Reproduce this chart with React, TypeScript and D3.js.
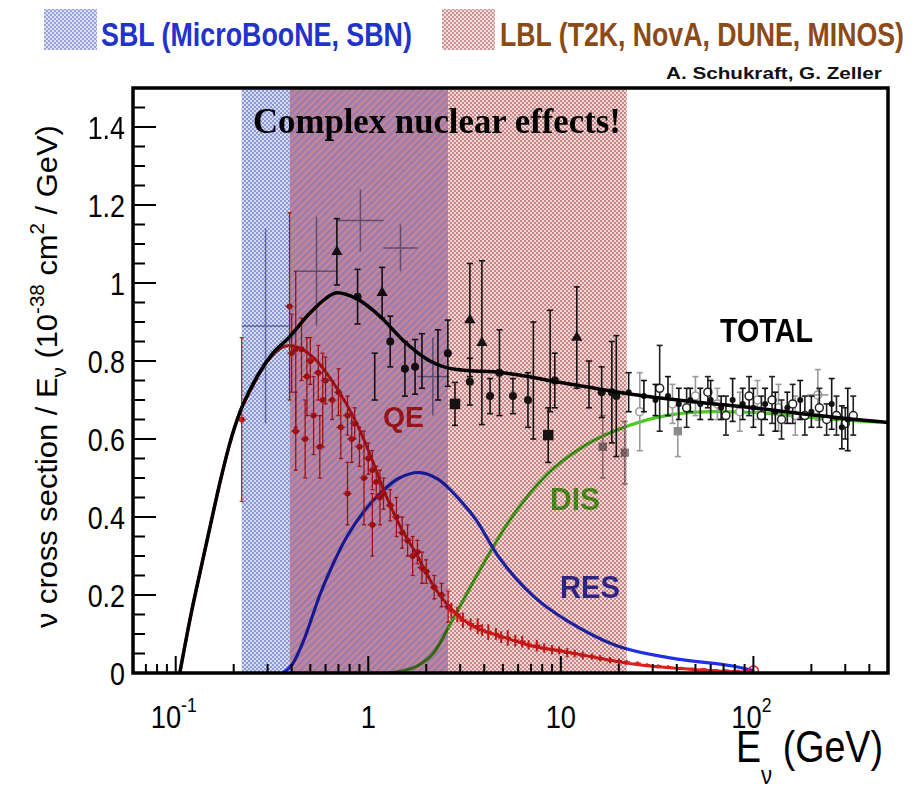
import React, { useLayoutEffect, useRef, useState } from "react";
import * as d3 from "d3";

const W = 920;
const H = 790;

// axes
const xDomain: [number, number] = [0.06, 500];
const yDomain: [number, number] = [0, 1.5];
const yMajorTicks = [0, 0.2, 0.4, 0.6, 0.8, 1, 1.2, 1.4];
const yTickLabels = ["0", "0.2", "0.4", "0.6", "0.8", "1", "1.2", "1.4"];
const xMajorTicks = [0.1, 1, 10, 100];
const xTickBase = ["10", "1", "10", "10"];
const xTickExp = ["-1", "", "", "2"];

// bands
const sblRange: [number, number] = [0.22, 2.6];
const lblRange: [number, number] = [0.39, 22];

// theory curves [E (GeV), sigma/E]
const totalCurve: [number, number][] = [
  [0.105, 0], [0.12, 0.15], [0.134, 0.26], [0.15, 0.37], [0.17, 0.49], [0.19, 0.585], [0.216, 0.67],
  [0.243, 0.726], [0.308, 0.81], [0.39, 0.862], [0.498, 0.923], [0.6, 0.96], [0.687, 0.975],
  [0.87, 0.96], [1.16, 0.913], [1.51, 0.854], [2.09, 0.8], [2.88, 0.778], [5, 0.77], [10, 0.745],
  [23.7, 0.714], [50, 0.695], [100, 0.68], [200, 0.662], [500, 0.642],
];
const qeCurve: [number, number][] = [
  [0.105, 0], [0.12, 0.15], [0.134, 0.26], [0.15, 0.37], [0.17, 0.49], [0.19, 0.585], [0.216, 0.67],
  [0.243, 0.722], [0.3, 0.8], [0.39, 0.84], [0.516, 0.81], [0.687, 0.73], [0.87, 0.64], [1.06, 0.54],
  [1.2, 0.47], [1.45, 0.38], [1.8, 0.3], [2.2, 0.22], [2.75, 0.16], [3.5, 0.12], [4.8, 0.095],
  [7, 0.07], [10.7, 0.054], [15, 0.04], [23.7, 0.023], [52, 0.008], [100, 0.002],
];
const resCurve: [number, number][] = [
  [0.36, 0], [0.4, 0.02], [0.45, 0.07], [0.5, 0.13], [0.56, 0.2], [0.65, 0.275], [0.775, 0.35],
  [0.95, 0.415], [1.15, 0.46], [1.45, 0.5], [1.85, 0.514], [2.3, 0.497], [3.1, 0.435], [3.66, 0.39],
  [4.8, 0.295], [7.2, 0.197], [10.7, 0.135], [19.5, 0.07], [35.5, 0.04], [78, 0.018], [100, 0.006],
];
const disCurve: [number, number][] = [
  [1.25, 0], [1.5, 0.005], [1.8, 0.018], [2.17, 0.05], [2.75, 0.138], [3.66, 0.25], [5.4, 0.39],
  [8.5, 0.51], [13, 0.58], [22.8, 0.635], [35, 0.66], [60, 0.67], [100, 0.668], [200, 0.655], [450, 0.643],
];

// measurements [E, value, error]
const blackTriangles: [number, number, number][] = [
  [0.687, 1.08, 0.085], [1.18, 0.975, 0.065], [3.37, 0.905, 0.145], [3.89, 0.847, 0.21], [12.1, 0.86, 0.13],
];
const blackCircles: [number, number, number][] = [
  [0.88, 0.965, 0.07], [1.3, 0.85, 0.065], [1.55, 0.78, 0.07], [1.75, 0.785, 0.07], [2.59, 0.82, 0.085],
  [3.37, 0.747, 0.06], [4.29, 0.71, 0.045], [4.8, 0.77, 0.11], [5.64, 0.71, 0.045], [6.75, 0.7, 0.07],
  [9.3, 0.75, 0.07], [16.3, 0.72, 0.065], [18.4, 0.72, 0.13], [19.4, 0.71, 0.155],
];
const blackBars: [number, number, number][] = [
  [1.08, 0.76, 0.06], [1.9, 0.8, 0.07], [7.2, 0.75, 0.15], [8.8, 0.8, 0.13], [2.3, 0.79, 0.09], [14, 0.74, 0.06],
];
const blackSquares: [number, number, number][] = [[2.82, 0.69, 0.055], [8.6, 0.61, 0.07]];
const graySquares: [number, number, number][] = [[16.5, 0.58, 0.08], [21.5, 0.565, 0.08], [40.5, 0.62, 0.065]];
const grayWide: [number, number, number, number][] = [
  [0.22, 0.39, 0.89, 0.25], [0.42, 0.69, 1.03, 0.14], [0.69, 1.2, 1.16, 0.08], [1.2, 1.8, 1.09, 0.06], [1.8, 2.6, 0.76, 0.1],
];
const highEBlack: [number, number, number][] = [
  [22.5, 0.72, 0.05], [27, 0.71, 0.04], [31, 0.7, 0.04], [36, 0.71, 0.05], [41, 0.69, 0.04], [47, 0.7, 0.03],
  [53, 0.69, 0.04], [60, 0.7, 0.05], [68, 0.68, 0.03], [78, 0.7, 0.055], [88, 0.69, 0.04], [100, 0.68, 0.05],
  [115, 0.69, 0.04], [130, 0.67, 0.05], [150, 0.68, 0.04], [175, 0.7, 0.05], [200, 0.67, 0.04],
  [255, 0.69, 0.065], [288, 0.63, 0.055], [309, 0.65, 0.08],
];
const highEOpen: [number, number, number][] = [
  [32.6, 0.73, 0.11], [45, 0.68, 0.05], [58, 0.72, 0.04], [72, 0.66, 0.05], [95, 0.71, 0.05], [110, 0.66, 0.05],
  [125, 0.7, 0.06], [140, 0.65, 0.05], [160, 0.69, 0.05], [185, 0.66, 0.05], [220, 0.68, 0.05], [240, 0.65, 0.04],
  [270, 0.66, 0.05], [300, 0.64, 0.04], [330, 0.66, 0.05],
];
const highEGray: [number, number, number][] = [
  [25.7, 0.67, 0.1], [38, 0.69, 0.05], [50, 0.71, 0.05], [65, 0.69, 0.04], [85, 0.67, 0.05], [105, 0.7, 0.05],
  [135, 0.68, 0.06], [165, 0.66, 0.05], [216, 0.713, 0.065],
];
const qePoints: [number, number, number][] = [
  [0.22, 0.65, 0.21], [0.39, 0.94, 0.24], [0.42, 0.83, 0.2], [0.4, 0.82, 0.1], [0.45, 0.83, 0.08], [0.48, 0.76, 0.1],
  [0.5, 0.8, 0.06], [0.55, 0.77, 0.07], [0.58, 0.7, 0.12], [0.6, 0.75, 0.06], [0.65, 0.7, 0.05], [0.7, 0.72, 0.06],
  [0.72, 0.63, 0.08], [0.78, 0.66, 0.05], [0.82, 0.6, 0.06], [0.85, 0.64, 0.04], [0.9, 0.58, 0.05], [0.95, 0.5, 0.12],
  [1.0, 0.55, 0.04], [1.05, 0.52, 0.05], [1.1, 0.49, 0.04], [1.15, 0.45, 0.07], [1.2, 0.46, 0.04], [1.3, 0.43, 0.04],
  [1.4, 0.4, 0.05], [1.5, 0.36, 0.04], [1.6, 0.34, 0.04], [1.7, 0.3, 0.05], [1.8, 0.31, 0.03], [1.9, 0.27, 0.04],
  [2.0, 0.26, 0.03], [2.2, 0.22, 0.03], [2.4, 0.2, 0.03], [2.6, 0.17, 0.04],
  [0.42, 0.62, 0.1], [0.47, 0.6, 0.1], [0.52, 0.66, 0.1], [0.56, 0.58, 0.08], [0.78, 0.46, 0.08], [1.05, 0.38, 0.08],
];
// dense QE measurement band above 2.6 GeV [E, value, error]
const qeDense: [number, number, number][] = [
  [2.7, 0.16, 0.02], [2.9, 0.15, 0.02], [3.1, 0.135, 0.02], [3.4, 0.125, 0.015], [3.7, 0.12, 0.02],
  [3.9, 0.11, 0.015], [4.2, 0.105, 0.02], [4.6, 0.1, 0.015], [4.9, 0.092, 0.015], [5.3, 0.09, 0.02],
  [5.8, 0.083, 0.015], [6.3, 0.08, 0.015], [6.8, 0.072, 0.012], [7.5, 0.07, 0.015], [8.2, 0.064, 0.012],
  [9, 0.06, 0.012], [9.8, 0.058, 0.01], [10.8, 0.052, 0.012], [11.8, 0.05, 0.01], [13, 0.045, 0.01],
  [14.5, 0.042, 0.008], [16, 0.038, 0.008], [18, 0.033, 0.008], [20, 0.03, 0.007], [22, 0.027, 0.006],
  [25, 0.024, 0.006], [28, 0.02, 0.005], [32, 0.017, 0.005], [36, 0.015, 0.005], [42, 0.012, 0.004],
  [48, 0.01, 0.004], [55, 0.009, 0.004], [63, 0.007, 0.003], [72, 0.006, 0.003], [82, 0.005, 0.003], [92, 0.004, 0.003],
];

const FRAME = { left: 133, right: 888, top: 88, bottom: 673 };

type FitProps = {
  x: number;
  y: number;
  width: number;
  anchor?: "start" | "middle" | "end";
  rotate?: number;
  children: React.ReactNode;
  [k: string]: any;
};

function FitText({ x, y, width, anchor = "start", rotate = 0, children, ...rest }: FitProps) {
  const ref = useRef<SVGTextElement>(null);
  const [s, setS] = useState(1);
  useLayoutEffect(() => {
    if (ref.current) {
      const w = ref.current.getComputedTextLength();
      if (w > 0) setS(width / w);
    }
  }, [width]);
  return (
    <text
      ref={ref}
      x={0}
      y={0}
      textAnchor={anchor}
      transform={`translate(${x},${y}) rotate(${rotate}) scale(${s},1)`}
      {...rest}
    >
      {children}
    </text>
  );
}

export default function App() {
  const x = d3.scaleLog().domain(xDomain).range([FRAME.left, FRAME.right]);
  const y = d3.scaleLinear().domain(yDomain).range([FRAME.bottom, FRAME.top]);
  const line = d3
    .line<[number, number]>()
    .x((d) => x(d[0]))
    .y((d) => y(d[1]))
    .curve(d3.curveMonotoneX);
  const smooth = d3
    .line<[number, number]>()
    .x((d) => x(d[0]))
    .y((d) => y(d[1]))
    .curve(d3.curveCatmullRom.alpha(0.5));

  const yMinor = d3.range(0, 1.5001, 0.05).filter((v) => !yMajorTicks.some((m) => Math.abs(m - v) < 1e-6));
  const xMinor: number[] = [];
  for (let dec = 0.01; dec <= 100; dec *= 10) {
    for (let k = 2; k <= 9; k++) {
      const v = dec * k;
      if (v > xDomain[0] && v < xDomain[1]) xMinor.push(v);
    }
  }

  const errBar = (d: [number, number, number], color: string, key: string, cap = 3, w = 1.6) => {
    const cx = x(d[0]);
    const y1 = y(Math.max(0, d[1] - d[2]));
    const y2 = y(d[1] + d[2]);
    return (
      <g key={key} stroke={color} strokeWidth={w}>
        <line x1={cx} x2={cx} y1={y1} y2={y2} />
        {cap > 0 && <line x1={cx - cap} x2={cx + cap} y1={y1} y2={y1} />}
        {cap > 0 && <line x1={cx - cap} x2={cx + cap} y1={y2} y2={y2} />}
      </g>
    );
  };
  const tri = d3.symbol().type(d3.symbolTriangle).size(55)() as string;
  const sq = d3.symbol().type(d3.symbolSquare).size(110)() as string;
  const sqSmall = d3.symbol().type(d3.symbolSquare).size(70)() as string;

  const band = (r: [number, number]) => ({ x: x(r[0]), w: x(r[1]) - x(r[0]) });
  const blueOnly = band([sblRange[0], lblRange[0]]);
  const overlap = band([lblRange[0], sblRange[1]]);
  const redOnly = band([sblRange[1], lblRange[1]]);

  const sans = "'Liberation Sans', Arial, Helvetica, sans-serif";
  const red = "#e21f1f";

  return (
    <svg width={W} height={H} style={{ position: "absolute", left: 0, top: 0, background: "#fff" }}>
      <defs>
        <pattern id="pSbl" width="4" height="4" patternUnits="userSpaceOnUse">
          <rect width="4" height="4" fill="#d2d8f3" />
          <rect width="2" height="2" fill="#7e8cd4" />
          <rect x="2" y="2" width="2" height="2" fill="#7e8cd4" />
        </pattern>
        <pattern id="pLbl" width="4" height="4" patternUnits="userSpaceOnUse">
          <rect width="4" height="4" fill="#f0d4d4" />
          <rect width="2" height="2" fill="#c27878" />
          <rect x="2" y="2" width="2" height="2" fill="#c27878" />
        </pattern>
        <pattern id="pOv" width="5" height="5" patternUnits="userSpaceOnUse" patternTransform="rotate(45)">
          <rect width="5" height="5" fill="#c47788" />
          <rect width="2.5" height="5" fill="#8a6ea8" />
        </pattern>
        <clipPath id="plotClip">
          <rect x={FRAME.left} y={FRAME.top} width={FRAME.right - FRAME.left} height={FRAME.bottom - FRAME.top} />
        </clipPath>
      </defs>

      {/* legend */}
      <rect x={44} y={9} width={53} height={41} fill="url(#pSbl)" opacity={0.8} />
      <FitText x={101} y={46} width={311} fontFamily={sans} fontWeight="bold" fontSize={34} fill="#2233cc">
        SBL (MicroBooNE, SBN)
      </FitText>
      <rect x={442} y={9} width={53} height={41} fill="url(#pLbl)" opacity={0.8} />
      <FitText x={500} y={46} width={404} fontFamily={sans} fontWeight="bold" fontSize={34} fill="#8b4a17">
        LBL (T2K, NovA, DUNE, MINOS)
      </FitText>
      <FitText x={666} y={79} width={216} fontFamily={sans} fontWeight="bold" fontSize={17} fill="#111">
        A. Schukraft, G. Zeller
      </FitText>

      <g clipPath="url(#plotClip)">
        {/* labels under bands */}
        <FitText x={383} y={427} width={41} fontFamily={sans} fontWeight="bold" fontSize={30} fill="#d82a2a">QE</FitText>
        <FitText x={550} y={510} width={50} fontFamily={sans} fontWeight="bold" fontSize={31} fill="#55c22a">DIS</FitText>
        <FitText x={560} y={598} width={60} fontFamily={sans} fontWeight="bold" fontSize={31} fill="#3535c0">RES</FitText>

        {/* curves */}
        <path d={line(disCurve) || ""} fill="none" stroke="#48cc1e" strokeWidth={3.2} />
        <path d={smooth(resCurve) || ""} fill="none" stroke="#2030e6" strokeWidth={3.2} />

        {/* QE data */}
        {qePoints.map((d, i) => errBar(d, red, "qe" + i, 2, 1.3))}
        {qePoints.map((d, i) => (
          <g key={"qec" + i}>
            <line x1={x(d[0] * 0.95)} x2={x(d[0] * 1.05)} y1={y(d[1])} y2={y(d[1])} stroke={red} strokeWidth={1.3} />
            <circle cx={x(d[0])} cy={y(d[1])} r={3} fill={red} />
          </g>
        ))}
        {qeDense.map((d, i) => errBar(d, red, "qd" + i, 0, 2))}
        {qeDense.map((d, i) => (
          <line key={"qdh" + i} x1={x(d[0] * 0.96)} x2={x(d[0] * 1.04)} y1={y(d[1])} y2={y(d[1])}
            stroke={red} strokeWidth={2.5} />
        ))}
        <circle cx={x(100)} cy={y(0.005)} r={5} fill="none" stroke={red} strokeWidth={1.5} />
        <path d={line(qeCurve) || ""} fill="none" stroke={red} strokeWidth={3} />

        {/* gray wide bins */}
        {grayWide.map((d, i) => {
          const xm = x(Math.sqrt(d[0] * d[1]));
          return (
            <g key={"gw" + i} stroke="#8c93a8" strokeWidth={1.5}>
              <line x1={x(d[0])} x2={x(d[1])} y1={y(d[2])} y2={y(d[2])} />
              <line x1={xm} x2={xm} y1={y(d[2] - d[3])} y2={y(d[2] + d[3])} />
            </g>
          );
        })}

        {/* total data */}
        {highEGray.map((d, i) => errBar(d, "#9a9a9a", "hg" + i))}
        {highEGray.map((d, i) => (
          <circle key={"hgc" + i} cx={x(d[0])} cy={y(d[1])} r={4} fill="#fff" stroke="#9a9a9a" strokeWidth={1.5} />
        ))}
        <line x1={x(190)} x2={x(245)} y1={y(0.713)} y2={y(0.713)} stroke="#9a9a9a" strokeWidth={1.6} />
        {graySquares.map((d, i) => errBar(d, "#9a9a9a", "gs" + i))}
        {graySquares.map((d, i) => (
          <path key={"gsq" + i} d={sqSmall} transform={`translate(${x(d[0])},${y(d[1])})`} fill="#8a8a8a" />
        ))}
        {highEOpen.map((d, i) => errBar(d, "#222", "ho" + i))}
        {highEOpen.map((d, i) => (
          <circle key={"hoc" + i} cx={x(d[0])} cy={y(d[1])} r={4} fill="#fff" stroke="#222" strokeWidth={1.5} />
        ))}
        {highEBlack.map((d, i) => errBar(d, "#111", "hb" + i))}
        {highEBlack.map((d, i) => (
          <circle key={"hbc" + i} cx={x(d[0])} cy={y(d[1])} r={3} fill="#111" />
        ))}
        {blackBars.map((d, i) => errBar(d, "#1a1a1a", "bb" + i))}
        {blackCircles.map((d, i) => errBar(d, "#1a1a1a", "bc" + i))}
        {blackCircles.map((d, i) => (
          <circle key={"bcc" + i} cx={x(d[0])} cy={y(d[1])} r={4} fill="#1a1a1a" />
        ))}
        {blackTriangles.map((d, i) => errBar(d, "#1a1a1a", "bt" + i))}
        {blackTriangles.map((d, i) => (
          <path key={"btt" + i} d={tri} transform={`translate(${x(d[0])},${y(d[1])})`} fill="#1a1a1a" />
        ))}
        {blackSquares.map((d, i) => errBar(d, "#1a1a1a", "bs" + i))}
        {blackSquares.map((d, i) => (
          <path key={"bss" + i} d={sq} transform={`translate(${x(d[0])},${y(d[1])})`} fill="#1a1a1a" />
        ))}

        <path d={line(totalCurve) || ""} fill="none" stroke="#000" strokeWidth={3.5} />

        {/* bands */}
        <g style={{ mixBlendMode: "multiply" }} opacity={0.9}>
          <rect x={blueOnly.x} y={FRAME.top} width={blueOnly.w} height={FRAME.bottom - FRAME.top} fill="url(#pSbl)" />
          <rect x={overlap.x} y={FRAME.top} width={overlap.w} height={FRAME.bottom - FRAME.top} fill="url(#pOv)" />
          <rect x={redOnly.x} y={FRAME.top} width={redOnly.w} height={FRAME.bottom - FRAME.top} fill="url(#pLbl)" />
        </g>
      </g>

      <FitText x={253} y={133} width={368} fontFamily="'Liberation Serif', 'Times New Roman', serif"
        fontWeight="bold" fontSize={35} fill="#000">Complex nuclear effects!</FitText>
      <FitText x={720} y={342} width={93} fontFamily={sans} fontWeight="bold" fontSize={33} fill="#000">TOTAL</FitText>

      {/* ticks */}
      <g stroke="#000" strokeWidth={2}>
        {yMajorTicks.map((v) => (
          <line key={"ym" + v} x1={FRAME.left} x2={FRAME.left + 23} y1={y(v)} y2={y(v)} />
        ))}
        {yMinor.map((v) => (
          <line key={"yn" + v} x1={FRAME.left} x2={FRAME.left + 12} y1={y(v)} y2={y(v)} />
        ))}
        {xMajorTicks.map((v) => (
          <line key={"xm" + v} x1={x(v)} x2={x(v)} y1={FRAME.bottom} y2={FRAME.bottom - 17} />
        ))}
        {xMinor.map((v) => (
          <line key={"xn" + v} x1={x(v)} x2={x(v)} y1={FRAME.bottom} y2={FRAME.bottom - 9} />
        ))}
      </g>

      {/* frame */}
      <rect x={FRAME.left} y={FRAME.top} width={FRAME.right - FRAME.left} height={FRAME.bottom - FRAME.top}
        fill="none" stroke="#000" strokeWidth={3.5} />

      {/* tick labels */}
      {yMajorTicks.map((v, i) => (
        <text key={"yl" + v} textAnchor="end" fontFamily={sans} fontSize={32} fill="#000"
          transform={`translate(125,${y(v) + 11.5}) scale(0.84,1)`}>
          {yTickLabels[i]}
        </text>
      ))}
      {xMajorTicks.map((v, i) => (
        <text key={"xl" + v} textAnchor="middle" fontFamily={sans} fontSize={31} fill="#000"
          transform={`translate(${x(v) - (xTickExp[i] ? 2 : 0)},728) scale(0.88,1)`}>
          {xTickBase[i]}
          {xTickExp[i] && (
            <tspan dy={-16} fontSize={20}>{xTickExp[i]}</tspan>
          )}
        </text>
      ))}

      {/* axis titles */}
      <FitText x={57} y={628} rotate={-90} width={503} fontFamily={sans} fontSize={30} fill="#000">
        ν cross section / E<tspan dy={9} fontSize={20}>ν</tspan>
        <tspan dy={-9}> (10</tspan>
        <tspan dy={-13} fontSize={20}>-38</tspan>
        <tspan dy={13}> cm</tspan>
        <tspan dy={-13} fontSize={20}>2</tspan>
        <tspan dy={13}> / GeV)</tspan>
      </FitText>
      <FitText x={736} y={762} width={147} fontFamily={sans} fontSize={44} fill="#000">
        E<tspan dy={22} fontSize={26}>ν</tspan>
        <tspan dy={-22}> (GeV)</tspan>
      </FitText>
    </svg>
  );
}
